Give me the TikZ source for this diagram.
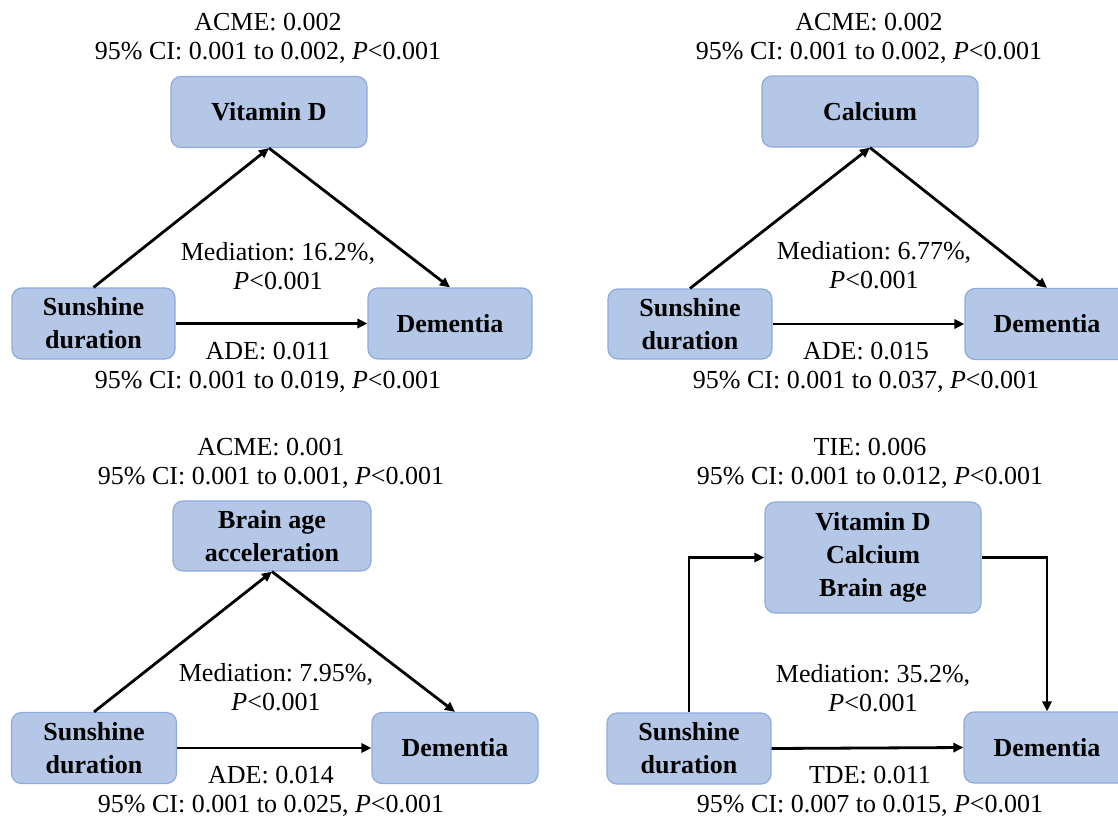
\documentclass[tikz,border=0pt]{standalone}
\usepackage{fontspec}
\setmainfont{Liberation Serif}
\usepackage{tikz}
\usetikzlibrary{arrows.meta,positioning,calc}
\definecolor{boxfill}{RGB}{180,199,231}
\definecolor{boxline}{RGB}{143,170,220}
\frenchspacing

\begin{document}
\begin{tikzpicture}[x=0.5pt,y=-0.5pt, >={Triangle[length=5pt,width=4.6pt]},
  varbox/.style={draw=boxline,fill=boxfill,rounded corners=5pt,line width=0.6pt,
    inner sep=0pt,align=center,font=\fontsize{13}{16.5}\selectfont\bfseries},
  stat/.style={align=center,inner sep=0pt,font=\fontsize{13}{14.5}\selectfont},
  link/.style={->,line width=1.4pt}]
  \useasboundingbox (0,0) rectangle (1118,819);
  \clip (0,0) rectangle (1118,819);

  % ===== top left: vitamin D =====
  \node[varbox,minimum width=98pt,minimum height=35.5pt] (vitd) at (269,112) {Vitamin D};
  \node[varbox,minimum width=81.5pt,minimum height=35.5pt] (sunA) at (93.5,323.5) {Sunshine\\duration};
  \node[varbox,minimum width=82pt,minimum height=35.5pt] (demA) at (450,323.5) {Dementia};
  \draw[link] (sunA.north) -- (vitd.south);
  \draw[link] (vitd.south) -- (demA.north);
  \draw[link] (sunA.east) -- (demA.west);
  \node[stat] (acmeA) at (268,38.5) {ACME: 0.002\\95\% CI: 0.001 to 0.002, \textit{P}<0.001};
  \node[stat] (medA) at (278,266.5) {Mediation: 16.2\%,\\\textit{P}<0.001};
  \node[stat] (adeA) at (268,367.5) {ADE: 0.011\\95\% CI: 0.001 to 0.019, \textit{P}<0.001};

  % ===== top right: calcium =====
  \node[varbox,minimum width=108pt,minimum height=35.5pt] (calc) at (870,111.5) {Calcium};
  \node[varbox,minimum width=82pt,minimum height=35pt] (sunB) at (690,324) {Sunshine\\duration};
  \node[varbox,minimum width=82pt,minimum height=35.5pt] (demB) at (1047,324) {Dementia};
  \draw[link] (sunB.north) -- (calc.south);
  \draw[link] (calc.south) -- (demB.north);
  \draw[link] (sunB.east) -- (demB.west);
  \node[stat] (acmeB) at (869,38.5) {ACME: 0.002\\95\% CI: 0.001 to 0.002, \textit{P}<0.001};
  \node[stat] (medB) at (874,265) {Mediation: 6.77\%,\\\textit{P}<0.001};
  \node[stat] (adeB) at (866,367.5) {ADE: 0.015\\95\% CI: 0.001 to 0.037, \textit{P}<0.001};

  % ===== bottom left: brain age =====
  \node[varbox,minimum width=99pt,minimum height=35pt] (brain) at (272,536) {Brain age\\acceleration};
  \node[varbox,minimum width=82.5pt,minimum height=35.5pt] (sunC) at (94,748) {Sunshine\\duration};
  \node[varbox,minimum width=83pt,minimum height=35.5pt] (demC) at (455,748) {Dementia};
  \draw[link] (sunC.north) -- (brain.south);
  \draw[link] (brain.south) -- (demC.north);
  \draw[link] (sunC.east) -- (demC.west);
  \node[stat] (acmeC) at (271,463.5) {ACME: 0.001\\95\% CI: 0.001 to 0.001, \textit{P}<0.001};
  \node[stat] (medC) at (276,687.5) {Mediation: 7.95\%,\\\textit{P}<0.001};
  \node[stat] (adeC) at (271,791.5) {ADE: 0.014\\95\% CI: 0.001 to 0.025, \textit{P}<0.001};

  % ===== bottom right: all three =====
  \node[varbox,minimum width=108pt,minimum height=55.5pt] (joint) at (873,557.5) {Vitamin D\\Calcium\\Brain age};
  \node[varbox,minimum width=82pt,minimum height=35.5pt] (sunD) at (689,748.5) {Sunshine\\duration};
  \node[varbox,minimum width=83pt,minimum height=35.5pt] (demD) at (1047,747.5) {Dementia};
  \draw[link] (sunD.north) |- (joint.west);
  \draw[link] (joint.east) -| (demD.north);
  \draw[link] (sunD.east) -- (demD.west);
  \node[stat] (tie) at (870,463.5) {TIE: 0.006\\95\% CI: 0.001 to 0.012, \textit{P}<0.001};
  \node[stat] (medD) at (873,688) {Mediation: 35.2\%,\\\textit{P}<0.001};
  \node[stat] (tde) at (870,791) {TDE: 0.011\\95\% CI: 0.007 to 0.015, \textit{P}<0.001};
\end{tikzpicture}
\end{document}
